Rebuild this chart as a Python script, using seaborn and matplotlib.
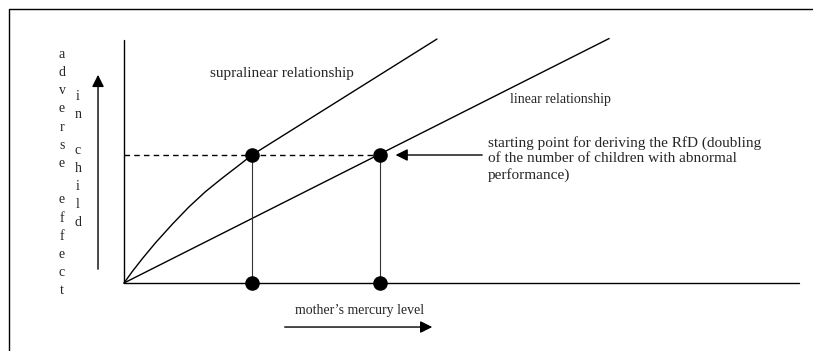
import numpy as np
import pandas as pd
import matplotlib
matplotlib.use("Agg")
import matplotlib.pyplot as plt
import seaborn as sns

sns.set_theme(style="white")
plt.rcParams["font.family"] = ["Liberation Serif", "DejaVu Serif"]

# values (1 unit = distance from origin to first dose point)
linear_x = [0, 3.79]
linear_y = [0, 1.91]
supra_x = [0, 0.065, 0.143, 0.247, 0.378, 0.508, 0.638, 0.768, 0.898, 1.0, 2.445]
supra_y = [0, 0.09, 0.19, 0.315, 0.46, 0.595, 0.715, 0.82, 0.92, 1.0, 1.906]
dose_points = [1.0, 2.0]          # supralinear / linear dose at doubling
effect_level = 1.0                 # doubling of abnormal performance
axis_x_max = 5.27
axis_y_max = 1.9

fig = plt.figure(figsize=(8.13, 3.51), dpi=100)
ax = fig.add_axes([0, 0, 1, 1])
ax.set_xlim(-124 / 128, (813 - 124) / 128)
ax.set_ylim(-(351 - 283) / 128, 283 / 128)
ax.axis("off")

# frame (top + left only, as in the scan)
ax.plot([0.011, 0.011, 1.0], [0.0, 0.974, 0.974], transform=ax.transAxes,
        color="black", lw=1.0, clip_on=False)

# axes of the diagram
ax.plot([0, 0], [0, axis_y_max], color="black", lw=1.0)
ax.plot([0, axis_x_max], [0, 0], color="black", lw=1.0)

# dose-response lines
sns.lineplot(x=linear_x, y=linear_y, color="black", lw=1.0, sort=False,
             estimator=None, ax=ax)
sns.lineplot(x=supra_x, y=supra_y, color="black", lw=1.0, sort=False,
             estimator=None, ax=ax)

# dashed level line and drop lines
ax.plot([0, dose_points[1]], [effect_level, effect_level], color="black",
        lw=1.0, linestyle=(0, (4, 3)))
for d in dose_points:
    ax.plot([d, d], [0, effect_level], color="#333333", lw=0.8)

pts = pd.DataFrame({
    "x": dose_points + dose_points,
    "y": [effect_level] * 2 + [0] * 2,
})
sns.scatterplot(data=pts, x="x", y="y", color="black", s=110,
                edgecolor="black", linewidth=0, zorder=5, ax=ax)

# arrows
arrow = dict(arrowstyle="-|>", color="black", lw=1.0, mutation_scale=18)
ax.annotate("", xy=(-0.203, 1.648), xytext=(-0.203, 0.086), arrowprops=arrow)
ax.annotate("", xy=(2.43, -0.344), xytext=(1.234, -0.344), arrowprops=arrow)
ax.annotate("", xy=(2.10, effect_level), xytext=(2.82, effect_level), arrowprops=arrow)

# labels
ax.text(0.672, 1.64, "supralinear relationship", fontsize=11, ha="left", va="center")
ax.text(3.016, 1.43, "linear relationship", fontsize=10, ha="left", va="center")
ax.text(2.844, 0.969,
        "starting point for deriving the RfD (doubling\n"
        "of the number of children with abnormal\n"
        "performance)",
        fontsize=11, ha="left", va="center", linespacing=1.22)
ax.text(1.336, -0.211, "mother\u2019s mercury level", fontsize=10, ha="left", va="center")
ax.text(-0.484, 0.863, "\n".join("adverse effect"),
        fontsize=10, ha="center", va="center", linespacing=1.52)
ax.text(-0.359, 0.965, "\n".join("in child"),
        fontsize=10, ha="center", va="center", linespacing=1.5)

fig.savefig("out.png", dpi=100)
